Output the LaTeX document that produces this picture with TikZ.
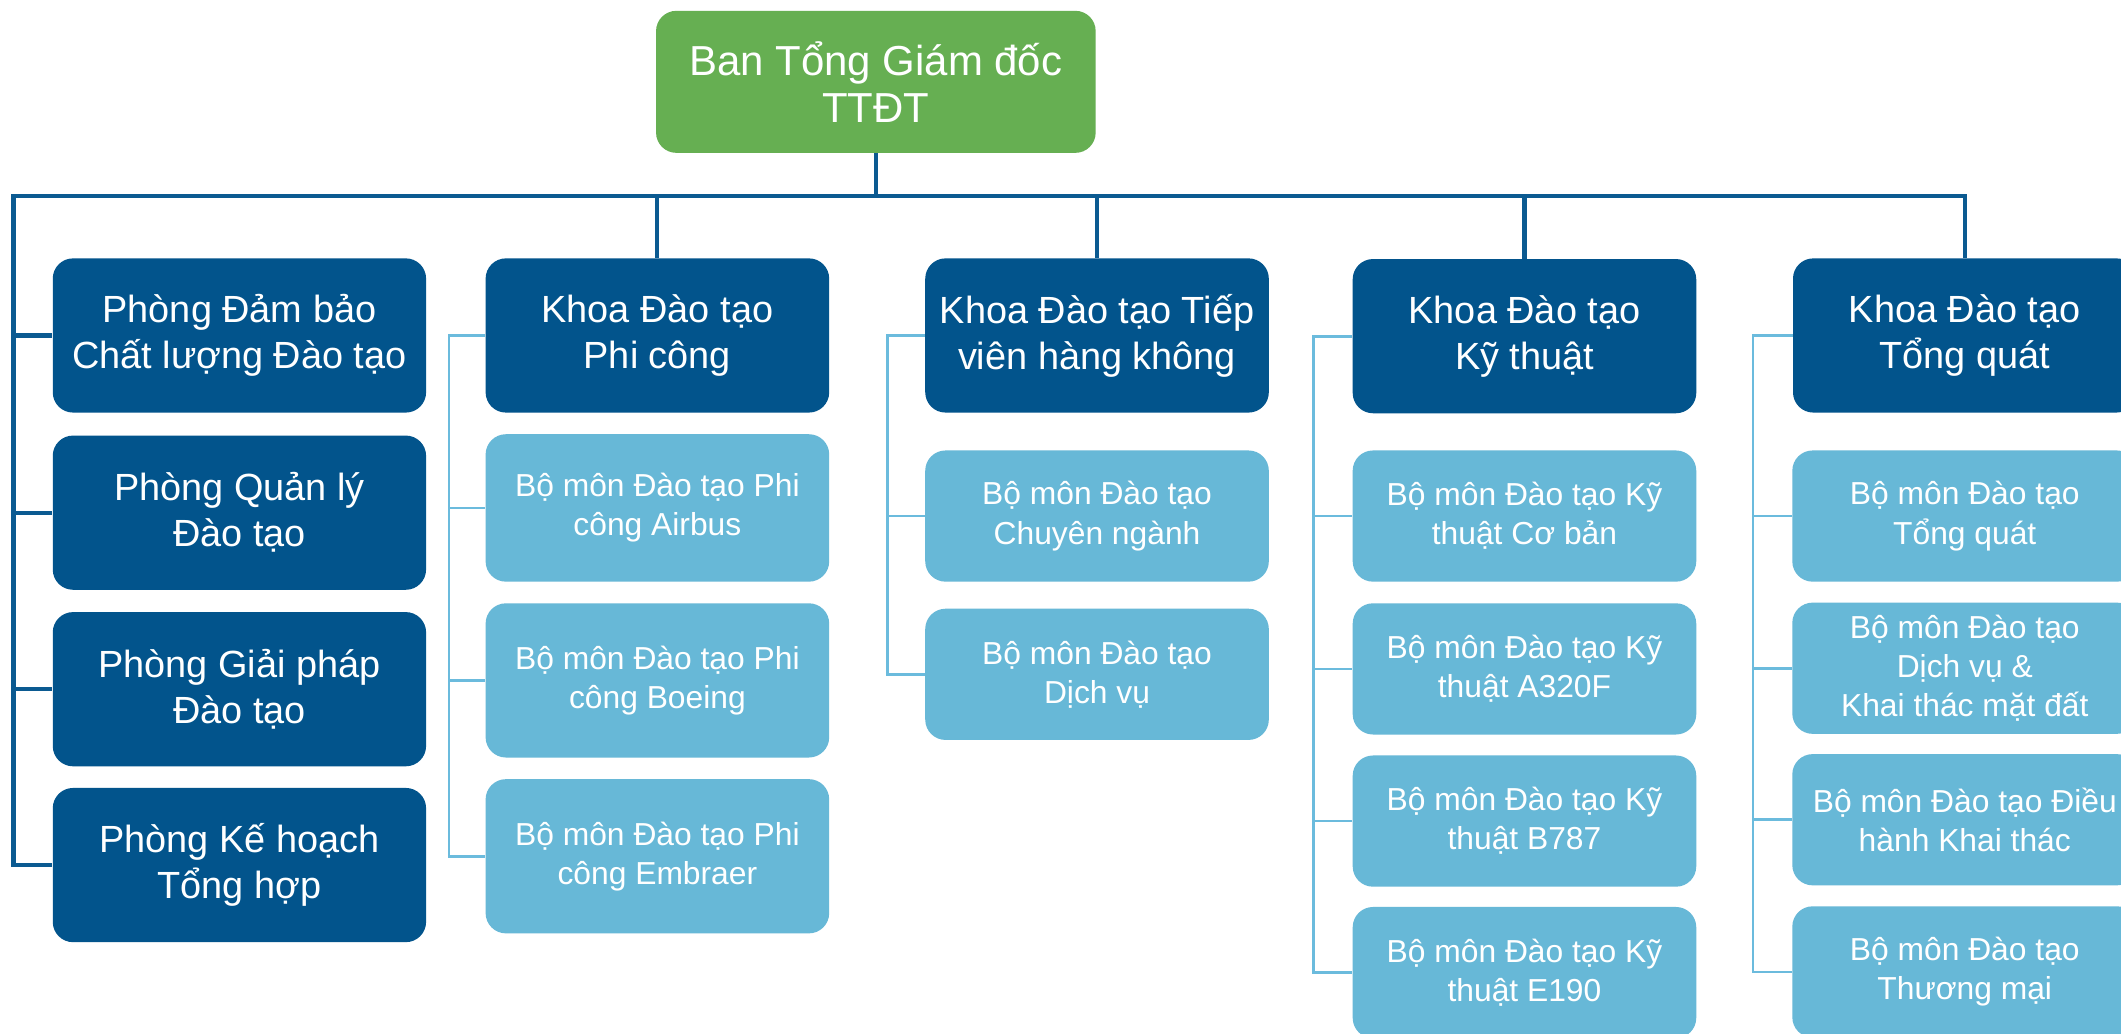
\documentclass[tikz,border=0pt]{standalone}
\usepackage{fontspec}
\setmainfont{Liberation Sans}
\definecolor{dkblue}{HTML}{02548C}
\definecolor{ltblue}{HTML}{67B8D7}
\definecolor{lnblue}{HTML}{6BBBDD}
\definecolor{topgreen}{HTML}{66AF52}
\definecolor{busblue}{HTML}{0B5A91}
\begin{document}
\begin{tikzpicture}[x=1pt,y=-1pt,
  boxbase/.style={rounded corners=15pt, text=white, align=center, inner sep=0pt, anchor=center},
  topbox/.style={boxbase, fill=topgreen, minimum width=325pt, minimum height=105pt, font=\fontsize{31}{35}\selectfont},
  headbox/.style={boxbase, fill=dkblue, minimum width=254pt, minimum height=114pt, font=\fontsize{28}{34}\selectfont},
  offbox/.style={boxbase, fill=dkblue, minimum width=276pt, minimum height=114pt, font=\fontsize{28}{34}\selectfont},
  subbox/.style={boxbase, fill=ltblue, minimum width=254pt, font=\fontsize{23.5}{29}\selectfont},
  busline/.style={draw=busblue, line width=3pt},
  subline/.style={draw=lnblue, line width=2pt}]
\useasboundingbox (0,0) rectangle (1568,764);
\fill[white] (0,0) rectangle (1568,764);

% top
\node[topbox] (top) at (647.5,60.5) {Ban Tổng Giám đốc\\TTĐT};

% offices (left)
\node[offbox] (o1) at (177,248) {Phòng Đảm bảo\\Chất lượng Đào tạo};
\node[offbox] (o2) at (177,379) {Phòng Quản lý\\Đào tạo};
\node[offbox] (o3) at (177,509.5) {Phòng Giải pháp\\Đào tạo};
\node[offbox] (o4) at (177,639.5) {Phòng Kế hoạch\\Tổng hợp};

% column heads
\node[headbox] (k1) at (486,248) {Khoa Đào tạo\\Phi công};
\node[headbox] (k2) at (811,248) {Khoa Đào tạo Tiếp\\viên hàng không};
\node[headbox] (k3) at (1127,248.5) {Khoa Đào tạo\\Kỹ thuật};
\node[headbox] (k4) at (1452.5,248) {Khoa Đào tạo\\Tổng quát};

% col 1 subs
\node[subbox, minimum height=109pt] (a1) at (486,375.5) {Bộ môn Đào tạo Phi\\công Airbus};
\node[subbox, minimum height=114pt] (a2) at (486,503) {Bộ môn Đào tạo Phi\\công Boeing};
\node[subbox, minimum height=114pt] (a3) at (486,633) {Bộ môn Đào tạo Phi\\công Embraer};

% col 2 subs
\node[subbox, minimum height=97pt] (b1) at (811,381.5) {Bộ môn Đào tạo\\Chuyên ngành};
\node[subbox, minimum height=97pt] (b2) at (811,498.5) {Bộ môn Đào tạo\\Dịch vụ};

% col 3 subs
\node[subbox, minimum height=97pt] (c1) at (1127,381.5) {Bộ môn Đào tạo Kỹ\\thuật Cơ bản};
\node[subbox, minimum height=97pt] (c2) at (1127,494.5) {Bộ môn Đào tạo Kỹ\\thuật A320F};
\node[subbox, minimum height=97pt] (c3) at (1127,607) {Bộ môn Đào tạo Kỹ\\thuật B787};
\node[subbox, minimum height=97pt] (c4) at (1127,719) {Bộ môn Đào tạo Kỹ\\thuật E190};

% col 4 subs
\node[subbox, minimum width=255pt, minimum height=97pt] (d1) at (1452.5,381.5) {Bộ môn Đào tạo\\Tổng quát};
\node[subbox, minimum width=255pt, minimum height=97pt] (d2) at (1452.5,494) {Bộ môn Đào tạo\\Dịch vụ \&\\Khai thác mặt đất};
\node[subbox, minimum width=255pt, minimum height=97pt] (d3) at (1452.5,606) {Bộ môn Đào tạo Điều\\hành Khai thác};
\node[subbox, minimum width=255pt, minimum height=97pt] (d4) at (1452.5,718.5) {Bộ môn Đào tạo\\Thương mại};

% bus
\coordinate (busL) at (10,145);
\coordinate (busR) at (1452.5,145);
\draw[busline] (top.south) -- (top.south |- busL);
\draw[busline, line cap=rect] (busL) -- (busR);
\draw[busline] (k1.north |- busL) -- (k1.north);
\draw[busline] (k2.north |- busL) -- (k2.north);
\draw[busline] (k3.north |- busL) -- (k3.north);
\draw[busline] (busR) -- (k4.north);
% left rail
\draw[busline] (busL) -- (o4.west -| busL) -- (o4.west);
\draw[busline] (o1.west -| busL) -- (o1.west);
\draw[busline] (o2.west -| busL) -- (o2.west);
\draw[busline] (o3.west -| busL) -- (o3.west);

% col rails
\coordinate (r1) at (332,0);
\coordinate (r2) at (656,0);
\coordinate (r3) at (971,0);
\coordinate (r4) at (1296,0);
\draw[subline] (k1.west) -- (k1.west -| r1) -- (a3.west -| r1) -- (a3.west);
\draw[subline] (a1.west -| r1) -- (a1.west);
\draw[subline] (a2.west -| r1) -- (a2.west);

\draw[subline] (k2.west) -- (k2.west -| r2) -- (b2.west -| r2) -- (b2.west);
\draw[subline] (b1.west -| r2) -- (b1.west);

\draw[subline] (k3.west) -- (k3.west -| r3) -- (c4.west -| r3) -- (c4.west);
\draw[subline] (c1.west -| r3) -- (c1.west);
\draw[subline] (c2.west -| r3) -- (c2.west);
\draw[subline] (c3.west -| r3) -- (c3.west);

\draw[subline] (k4.west) -- (k4.west -| r4) -- (d4.west -| r4) -- (d4.west);
\draw[subline] (d1.west -| r4) -- (d1.west);
\draw[subline] (d2.west -| r4) -- (d2.west);
\draw[subline] (d3.west -| r4) -- (d3.west);
\end{tikzpicture}
\end{document}
